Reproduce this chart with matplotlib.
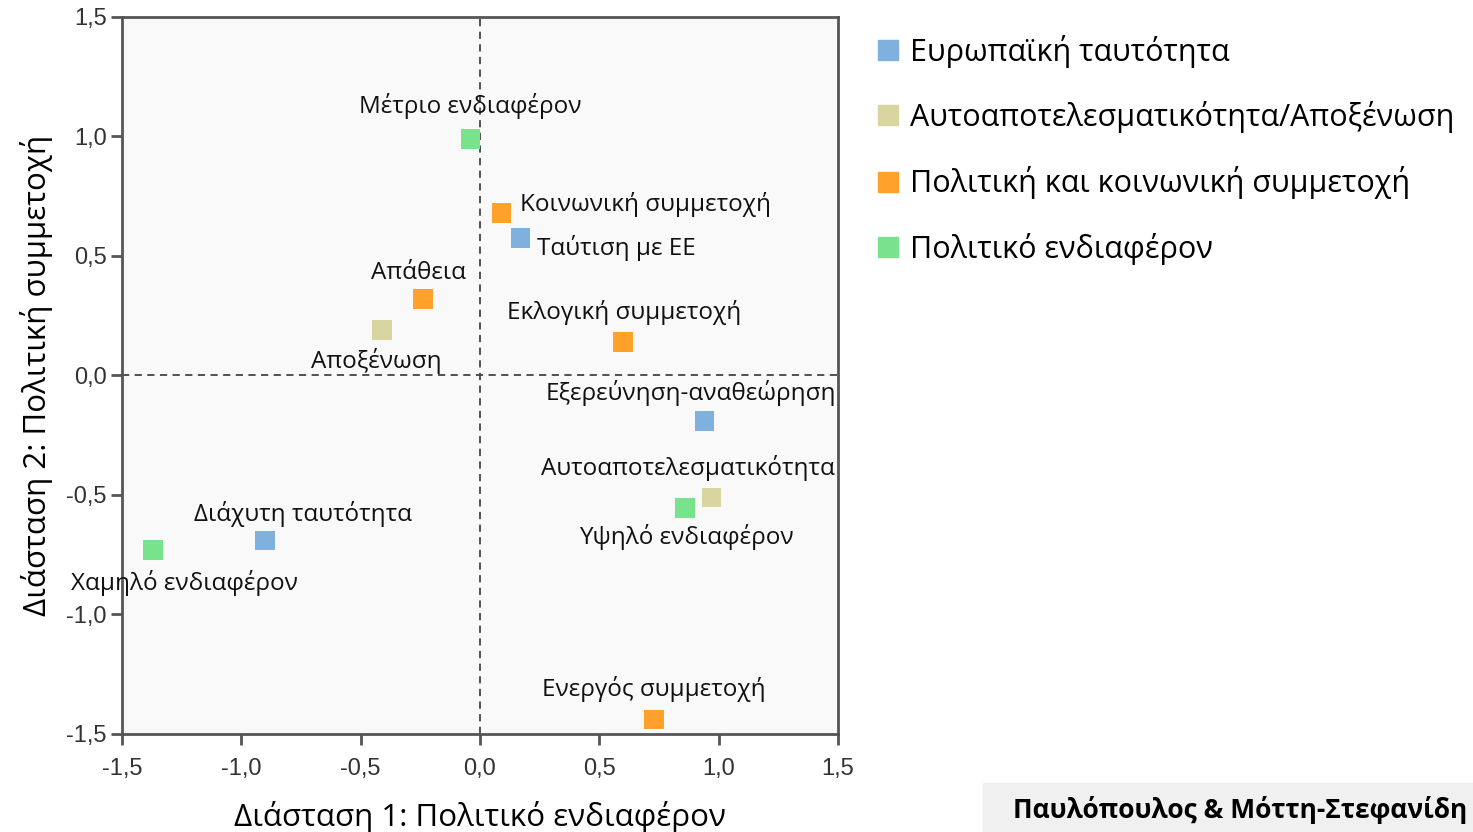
import matplotlib
matplotlib.use("Agg")
import matplotlib.pyplot as plt
from matplotlib.lines import Line2D
from matplotlib.patches import Rectangle
from matplotlib.ticker import FuncFormatter

plt.rcParams['font.family'] = ['Open Sans', 'DejaVu Sans']

# categories (legend order)
categories = ["Ευρωπαϊκή ταυτότητα", "Αυτοαποτελεσματικότητα/Αποξένωση",
              "Πολιτική και κοινωνική συμμετοχή", "Πολιτικό ενδιαφέρον"]
colors = ["#80b1de", "#d9d5a0", "#ffa12a", "#78e28c"]

# points
labels = ["Μέτριο ενδιαφέρον", "Κοινωνική συμμετοχή", "Ταύτιση με ΕΕ", "Απάθεια",
          "Αποξένωση", "Εκλογική συμμετοχή", "Εξερεύνηση-αναθεώρηση",
          "Αυτοαποτελεσματικότητα", "Υψηλό ενδιαφέρον", "Διάχυτη ταυτότητα",
          "Χαμηλό ενδιαφέρον", "Ενεργός συμμετοχή"]
dim1 = [-0.04, 0.09, 0.17, -0.24, -0.41, 0.60, 0.94, 0.97, 0.86, -0.90, -1.37, 0.73]
dim2 = [0.99, 0.68, 0.575, 0.32, 0.19, 0.14, -0.19, -0.51, -0.555, -0.69, -0.73, -1.44]
group = [3, 2, 0, 2, 1, 2, 0, 1, 3, 0, 3, 2]

# label placement (offset in points, horizontal alignment)
offsets = [(0, 24, 'center'), (13, 6, 'left'), (12, -7, 'left'), (-3, 19, 'center'),
           (-4, -22, 'center'), (1, 21, 'center'), (-10, 20, 'center'),
           (-17, 21, 'center'), (1, -21, 'center'), (27, 19, 'center'),
           (23, -24, 'center'), (0, 22, 'center')]

fig = plt.figure(figsize=(14.73, 8.32), dpi=100)
ax = fig.add_axes([0.0828, 0.1178, 0.4861, 0.8618])
ax.set_facecolor("#f9f9f9")

for g, (cat, col) in enumerate(zip(categories, colors)):
    xs = [x for x, gg in zip(dim1, group) if gg == g]
    ys = [y for y, gg in zip(dim2, group) if gg == g]
    ax.scatter(xs, ys, marker='s', s=200, color=col, edgecolors='none', zorder=3)

for lab, x, y, (dx, dy, ha) in zip(labels, dim1, dim2, offsets):
    ax.annotate(lab, (x, y), xytext=(dx, dy), textcoords='offset points',
                ha=ha, va='center', fontsize=17.5, color='#111111')

ax.axvline(0, color='#444444', lw=1.3, ls=(0, (4, 3)), zorder=1)
ax.axhline(0, color='#444444', lw=1.3, ls=(0, (4, 3)), zorder=1)

ax.set_xlim(-1.5, 1.5)
ax.set_ylim(-1.5, 1.5)
ticks = [-1.5, -1.0, -0.5, 0.0, 0.5, 1.0, 1.5]
ax.set_xticks(ticks)
ax.set_yticks(ticks)
fmt = FuncFormatter(lambda v, p: f"{v:.1f}".replace('.', ','))
ax.xaxis.set_major_formatter(fmt)
ax.yaxis.set_major_formatter(fmt)
ax.tick_params(direction='out', length=8, width=2, color='#555555',
               labelcolor='#333333', labelsize=17, pad=3)
ax.tick_params(axis='x', pad=9.5)
for lbl in ax.get_xticklabels() + ax.get_yticklabels():
    lbl.set_family(['Liberation Sans Narrow', 'Liberation Sans', 'DejaVu Sans'])
for sp in ax.spines.values():
    sp.set_color('#555555')
    sp.set_linewidth(2)

ax.set_xlabel("Διάσταση 1: Πολιτικό ενδιαφέρον", fontsize=22.5, labelpad=15)
ax.set_ylabel("Διάσταση 2: Πολιτική συμμετοχή", fontsize=22.5, labelpad=9.5)

handles = [Line2D([], [], marker='s', ls='none', color=c, markersize=14) for c in colors]
fig.legend(handles, categories, loc='upper left', bbox_to_anchor=(0.588, 0.973),
           frameon=False, fontsize=22, handlelength=0.6, handletextpad=0.45,
           labelspacing=1.09, borderaxespad=0)

fig.patches.append(Rectangle((983 / 1473, 0), 1 - 983 / 1473, 49 / 832,
                             transform=fig.transFigure, color='#f0f0f0', zorder=0))
fig.text(1240 / 1473, 22 / 832, "Παυλόπουλος & Μόττη-Στεφανίδη", ha='center',
         va='center', fontsize=19, fontweight='bold')

fig.savefig("out.png", dpi=100)
